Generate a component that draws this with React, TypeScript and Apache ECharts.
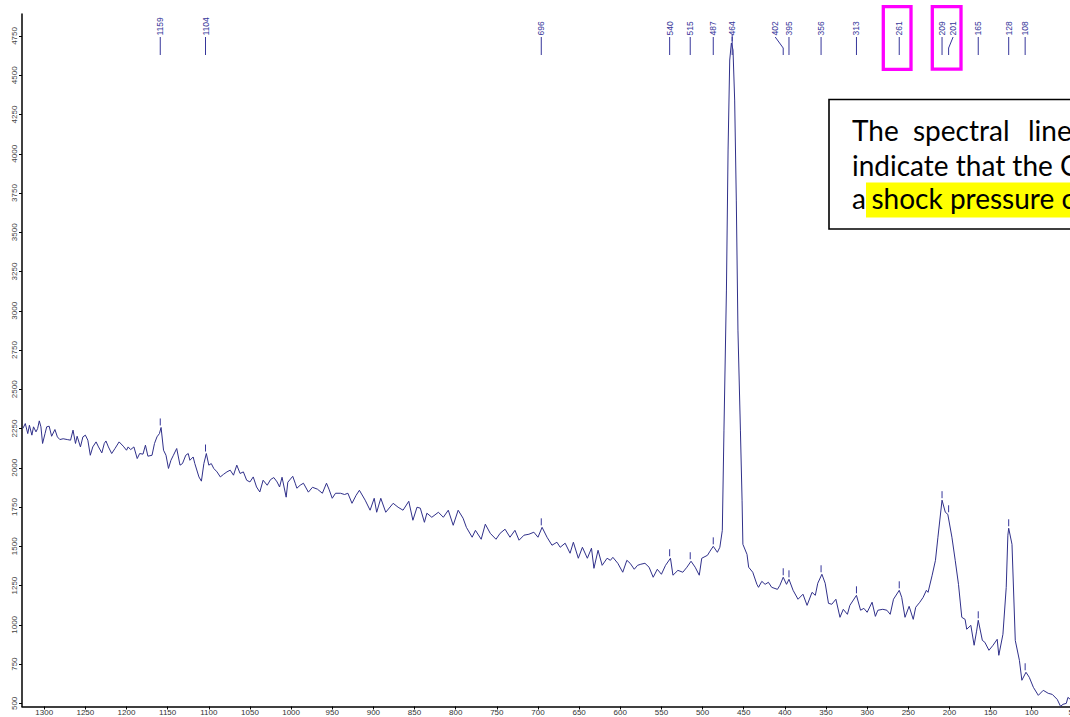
import React, { useEffect, useRef } from "react";
import * as echarts from "echarts";

// Raman spectrum: [wavenumber (cm-1), intensity]
const SPECTRUM: [number, number][] = [
  [1326, 2250], [1323, 2282], [1320, 2218], [1318, 2271], [1315, 2208], [1313, 2261], [1310, 2229], [1308, 2250],
  [1306, 2299], [1304, 2261], [1302, 2155], [1299, 2218], [1297, 2261], [1294, 2265], [1291, 2201], [1287, 2244],
  [1284, 2197], [1281, 2180], [1277, 2185], [1272, 2180], [1268, 2176], [1265, 2240], [1262, 2155], [1260, 2201],
  [1256, 2133], [1253, 2197], [1250, 2208], [1247, 2176], [1244, 2080], [1241, 2133], [1237, 2165], [1234, 2133],
  [1230, 2095], [1227, 2155], [1225, 2171], [1222, 2133], [1218, 2091], [1214, 2123], [1209, 2165], [1204, 2138],
  [1200, 2112], [1198, 2133], [1195, 2116], [1191, 2133], [1187, 2059], [1184, 2091], [1180, 2087], [1177, 2144],
  [1174, 2074], [1169, 2080], [1166, 2155], [1163, 2197], [1160, 2218], [1158, 2257], [1155, 2112], [1152, 2080],
  [1149, 1996], [1146, 2048], [1143, 2080], [1139, 2123], [1135, 2017], [1132, 2027], [1128, 2080], [1125, 2091],
  [1123, 2048], [1119, 2069], [1117, 2027], [1112, 1942], [1109, 1915], [1106, 2027], [1103, 2091], [1100, 2017],
  [1097, 2027], [1094, 1996], [1090, 1974], [1086, 1942], [1082, 1959], [1078, 1974], [1074, 1985], [1070, 1953],
  [1066, 2017], [1062, 1964], [1058, 1974], [1054, 1921], [1050, 1910], [1046, 1942], [1042, 1878], [1038, 1846],
  [1034, 1921], [1029, 1889], [1025, 1925], [1021, 1938], [1017, 1910], [1014, 1878], [1011, 1940], [1006, 1813],
  [1004, 1908], [998, 1946], [995, 1902], [993, 1870], [989, 1889], [985, 1902], [979, 1845], [974, 1876],
  [968, 1864], [962, 1838], [957, 1902], [954, 1864], [950, 1806], [946, 1838], [940, 1838], [935, 1830],
  [931, 1838], [926, 1774], [921, 1825], [917, 1857], [910, 1794], [904, 1730], [899, 1806], [896, 1717],
  [891, 1806], [885, 1717], [876, 1774], [870, 1749], [864, 1730], [857, 1787], [852, 1666], [847, 1749],
  [843, 1743], [838, 1653], [835, 1711], [829, 1685], [821, 1717], [815, 1685], [809, 1730], [803, 1634],
  [797, 1730], [791, 1679], [787, 1621], [780, 1558], [776, 1602], [769, 1545], [764, 1641], [758, 1583],
  [751, 1545], [746, 1583], [740, 1609], [734, 1558], [728, 1602], [723, 1539], [717, 1571], [711, 1577],
  [705, 1590], [700, 1558], [695, 1621], [689, 1558], [683, 1507], [677, 1526], [673, 1494], [667, 1520],
  [661, 1456], [657, 1526], [651, 1424], [646, 1494], [640, 1424], [635, 1488], [632, 1360], [627, 1475],
  [622, 1379], [616, 1424], [612, 1411], [609, 1430], [603, 1392], [597, 1335], [592, 1411], [588, 1392],
  [583, 1354], [579, 1379], [575, 1386], [570, 1392], [565, 1367], [560, 1303], [555, 1354], [550, 1322],
  [545, 1379], [539, 1424], [536, 1316], [530, 1347], [524, 1335], [519, 1367], [514, 1405], [509, 1367],
  [504, 1316], [501, 1424], [494, 1443], [491, 1469], [487, 1500], [482, 1462], [479, 1494], [476, 1602],
  [474, 2240], [471, 3132], [469, 4024], [467, 4597], [465, 4705], [463, 4661], [461, 4342], [459, 3705],
  [457, 2877], [454, 2240], [452, 1794], [451, 1513], [446, 1449], [444, 1367], [439, 1335], [434, 1258],
  [432, 1239], [428, 1277], [424, 1258], [420, 1271], [416, 1239], [409, 1226], [406, 1252], [402, 1303],
  [398, 1258], [395, 1290], [390, 1220], [384, 1163], [378, 1195], [373, 1124], [367, 1207], [363, 1188],
  [360, 1265], [355, 1322], [351, 1265], [347, 1137], [343, 1131], [338, 1163], [333, 1048], [329, 1099],
  [324, 1067], [321, 1124], [313, 1188], [308, 1093], [304, 1105], [300, 1080], [294, 1144], [290, 1054],
  [287, 1093], [281, 1099], [276, 1093], [272, 1067], [268, 1163], [261, 1220], [258, 1175], [254, 1048],
  [249, 1118], [244, 1035], [241, 1112], [236, 1144], [232, 1175], [228, 1220], [226, 1207], [221, 1316],
  [217, 1411], [214, 1558], [209, 1794], [205, 1717], [202, 1704], [197, 1558], [193, 1411], [189, 1258],
  [185, 1048], [181, 1035], [179, 972], [174, 997], [170, 870], [167, 960], [165, 1029], [160, 901],
  [157, 889], [152, 838], [147, 870], [142, 908], [140, 806], [135, 940], [131, 1239], [129, 1571],
  [128, 1615], [124, 1513], [120, 901], [115, 774], [112, 647], [107, 698], [103, 666], [98, 602],
  [92, 551], [86, 583], [80, 564], [75, 557], [69, 525], [65, 481], [62, 494], [58, 500],
  [56, 538], [53, 525], [48, 540],
];

// Peak positions labelled at the top of the plot
const PEAKS: number[] = [1159, 1104, 696, 540, 515, 487, 464, 402, 395, 356, 313, 261, 209, 201, 165, 128, 108];

const X_TICKS: number[] = [50, 100, 150, 200, 250, 300, 350, 400, 450, 500, 550, 600, 650, 700, 750, 800, 850, 900, 950, 1000, 1050, 1100, 1150, 1200, 1250, 1300];
const Y_TICKS: number[] = [500, 750, 1000, 1250, 1500, 1750, 2000, 2250, 2500, 2750, 3000, 3250, 3500, 3750, 4000, 4250, 4500, 4750];

const LINE1_WORDS: string[] = ["The", "spectral", "lines"];
const LINE2_TEXT = "indicate that the C";
const LINE3_LEAD = "a";
const LINE3_HIGHLIGHT = "shock pressure of";

// layout-only nudges for crowded labels (px)
const LABEL_NUDGE: Record<number, number> = { 402: -8, 201: 4.5 };

function peakHeight(v: number): number {
  let best = -Infinity;
  for (const [w, i] of SPECTRUM) {
    if (Math.abs(w - v) <= 3 && i > best) best = i;
  }
  return best;
}

const LABEL_COLOR = "#36369a";
const TEXT_FONT = "Lato";

export default function App() {
  const ref = useRef<HTMLDivElement>(null);

  useEffect(() => {
    if (!ref.current) return;
    const chart = echarts.init(ref.current, null, { renderer: "svg" });
    const peakData = PEAKS.map((v) => [v, peakHeight(v)]);
    const plain = (v: number) => String(v);

    const option: any = {
      animation: false,
      backgroundColor: "#ffffff",
      grid: { left: 22, top: 14, width: 1055, height: 692.5, containLabel: false, outerBoundsMode: "none" },
      xAxis: {
        type: "value",
        inverse: true,
        min: 45,
        max: 1327,
        axisLine: { show: true, onZero: false, lineStyle: { color: "#000", width: 1.5 } },
        axisTick: { show: true, customValues: X_TICKS, length: 3, lineStyle: { color: "#000", width: 1 } },
        axisLabel: { customValues: X_TICKS, formatter: plain, fontSize: 8, lineHeight: 8, color: "#333", margin: 1.5, fontFamily: "Liberation Sans" },
        splitLine: { show: false },
      },
      yAxis: {
        type: "value",
        min: 480,
        max: 4890,
        axisLine: { show: true, onZero: false, lineStyle: { color: "#000", width: 1.5 } },
        axisTick: { show: true, customValues: Y_TICKS, length: 3, lineStyle: { color: "#000", width: 1 } },
        axisLabel: { customValues: Y_TICKS, formatter: plain, rotate: 90, fontSize: 8, color: "#444", margin: 4, fontFamily: "Liberation Sans" },
        splitLine: { show: false },
      },
      series: [
        {
          type: "line",
          data: SPECTRUM,
          showSymbol: false,
          symbol: "none",
          lineStyle: { color: "#30308a", width: 1 },
          silent: true,
          z: 2,
        },
        {
          type: "custom",
          data: peakData,
          silent: true,
          clip: false,
          z: 3,
          renderItem: (params: any, api: any) => {
            const v = PEAKS[params.dataIndex];
            const pt = api.coord([api.value(0), api.value(1)]);
            const top = params.coordSys.y;
            const x = pt[0];
            const nudge = LABEL_NUDGE[v] || 0;
            const lx = x + nudge;
            const pts = nudge
              ? [[lx, top + 23], [x, top + 34], [x, top + 41]]
              : [[x, top + 23], [x, top + 41]];
            return {
              type: "group",
              children: [
                { type: "polyline", shape: { points: pts }, style: { stroke: LABEL_COLOR, lineWidth: 1, fill: "none" } },
                { type: "line", shape: { x1: x, y1: pt[1] - 9, x2: x, y2: pt[1] - 2 }, style: { stroke: LABEL_COLOR, lineWidth: 1 } },
                {
                  type: "text",
                  x: lx,
                  y: top + 21.5,
                  rotation: Math.PI / 2,
                  style: {
                    text: String(v),
                    fill: LABEL_COLOR,
                    fontSize: 8.5,
                    fontFamily: "Liberation Sans",
                    align: "left",
                    verticalAlign: "middle",
                  },
                },
              ],
            };
          },
        },
      ],
      graphic: [
        { type: "rect", z: 100, shape: { x: 883.3, y: 6.7, width: 27.7, height: 62.7 }, style: { fill: "none", stroke: "#ff00ff", lineWidth: 3.3 } },
        { type: "rect", z: 100, shape: { x: 932.3, y: 6.7, width: 28.7, height: 62.4 }, style: { fill: "none", stroke: "#ff00ff", lineWidth: 3.3 } },
        { type: "rect", z: 100, shape: { x: 829, y: 99.5, width: 400, height: 129.5 }, style: { fill: "#ffffff", stroke: "#000", lineWidth: 1.6 } },
        { type: "rect", z: 101, shape: { x: 866, y: 182.5, width: 300, height: 35 }, style: { fill: "#ffff00" } },
        { type: "text", z: 102, x: 852, y: 129.5, style: { text: LINE1_WORDS[0], fontSize: 28, fontFamily: TEXT_FONT, fill: "#000", verticalAlign: "middle" } },
        { type: "text", z: 102, x: 913, y: 129.5, style: { text: LINE1_WORDS[1], fontSize: 28, fontFamily: TEXT_FONT, fill: "#000", verticalAlign: "middle" } },
        { type: "text", z: 102, x: 1028, y: 129.5, style: { text: LINE1_WORDS[2], fontSize: 28, fontFamily: TEXT_FONT, fill: "#000", verticalAlign: "middle" } },
        { type: "text", z: 102, x: 852, y: 165, style: { text: LINE2_TEXT, fontSize: 28, fontFamily: TEXT_FONT, fill: "#000", verticalAlign: "middle" } },
        { type: "text", z: 102, x: 852, y: 197.5, style: { text: LINE3_LEAD, fontSize: 28, fontFamily: TEXT_FONT, fill: "#000", verticalAlign: "middle" } },
        { type: "text", z: 102, x: 871.5, y: 197.5, style: { text: LINE3_HIGHLIGHT, fontSize: 28, fontFamily: TEXT_FONT, fill: "#000", verticalAlign: "middle" } },
      ],
    };

    chart.setOption(option);
    return () => chart.dispose();
  }, []);

  return (
    <div style={{ position: "fixed", left: 0, top: 0, width: 1070, height: 717, overflow: "hidden", background: "#fff" }}>
      <div ref={ref} style={{ width: 1082, height: 730 }} />
    </div>
  );
}
